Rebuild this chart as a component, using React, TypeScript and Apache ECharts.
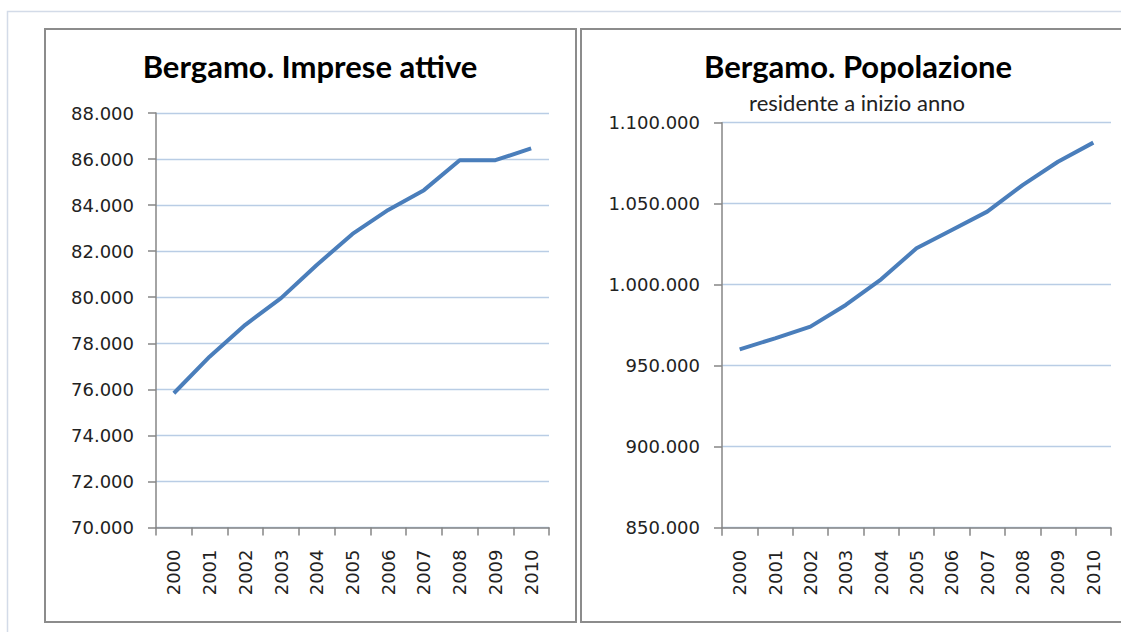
import React, { useEffect, useRef } from "react";
import * as echarts from "echarts";

const years = ["2000", "2001", "2002", "2003", "2004", "2005", "2006", "2007", "2008", "2009", "2010"];
const imprese = [75830, 77420, 78800, 79960, 81400, 82750, 83790, 84650, 85950, 85950, 86460];
const popolazione = [960100, 966900, 974100, 987500, 1003300, 1022500, 1033800, 1045100, 1061500, 1075900, 1087700];

const titleLeft = "Bergamo. Imprese attive";
const titleRight = "Bergamo. Popolazione";
const subtitleRight = "residente a inizio anno";

const fmt = (v: number) => String(Math.round(v)).replace(/\B(?=(\d{3})+(?!\d))/g, ".");

const axisColor = "#868686";
const gridColor = "#b9cde5";
const lineColor = "#4a7ebb";
const labelFont = "DejaVu Sans";

function xAxisFor(gridIndex: number) {
  return {
    type: "category",
    gridIndex,
    data: years,
    boundaryGap: true,
    axisLine: { show: true, lineStyle: { color: axisColor, width: 1.5 } },
    axisTick: { show: true, length: 8, lineStyle: { color: axisColor, width: 1.5 } },
    axisLabel: { rotate: 90, margin: 22, fontSize: 18, fontFamily: labelFont, color: "#222" },
    splitLine: { show: false },
  };
}

function yAxisFor(gridIndex: number, min: number, max: number, interval: number) {
  return {
    type: "value",
    gridIndex,
    min,
    max,
    interval,
    axisLine: { show: true, lineStyle: { color: axisColor, width: 1.5 } },
    axisTick: { show: true, length: 8, lineStyle: { color: axisColor, width: 1.5 } },
    axisLabel: { margin: 22, fontSize: 18, fontFamily: labelFont, color: "#222", formatter: fmt },
    splitLine: { show: true, lineStyle: { color: gridColor, width: 1.3 } },
  };
}

export default function App() {
  const ref = useRef<HTMLDivElement>(null);
  useEffect(() => {
    if (!ref.current) return;
    const chart = echarts.init(ref.current, null, { renderer: "svg" });
    chart.setOption({
      animation: false,
      backgroundColor: "#ffffff",
      grid: [
        { left: 156, top: 113, width: 393, height: 414.5 },
        { left: 722, top: 122.7, width: 389, height: 405 },
      ],
      xAxis: [xAxisFor(0), xAxisFor(1)],
      yAxis: [yAxisFor(0, 70000, 88000, 2000), yAxisFor(1, 850000, 1100000, 50000)],
      series: [
        {
          type: "line",
          xAxisIndex: 0,
          yAxisIndex: 0,
          data: imprese,
          showSymbol: false,
          symbol: "none",
          lineStyle: { color: lineColor, width: 4 },
          itemStyle: { color: lineColor },
        },
        {
          type: "line",
          xAxisIndex: 1,
          yAxisIndex: 1,
          data: popolazione,
          showSymbol: false,
          symbol: "none",
          lineStyle: { color: lineColor, width: 4 },
          itemStyle: { color: lineColor },
        },
      ],
      graphic: [
        {
          type: "rect",
          z: -1,
          shape: { x: 7.5, y: 11.5, width: 1300, height: 800 },
          style: { fill: "transparent", stroke: "#d3dbe8", lineWidth: 1.5 },
        },
        {
          type: "rect",
          z: -1,
          shape: { x: 45, y: 29, width: 531, height: 593 },
          style: { fill: "transparent", stroke: "#8c8c8c", lineWidth: 2 },
        },
        {
          type: "rect",
          z: -1,
          shape: { x: 581, y: 29, width: 560, height: 593 },
          style: { fill: "transparent", stroke: "#8c8c8c", lineWidth: 2 },
        },
        {
          type: "text",
          x: 310,
          y: 66,
          style: {
            text: titleLeft,
            font: "bold 31px Lato",
            fill: "#000",
            align: "center",
            verticalAlign: "middle",
          },
        },
        {
          type: "text",
          x: 858,
          y: 66,
          style: {
            text: titleRight,
            font: "bold 31px Lato",
            fill: "#000",
            align: "center",
            verticalAlign: "middle",
          },
        },
        {
          type: "text",
          x: 857,
          y: 102,
          style: {
            text: subtitleRight,
            font: "22px Lato",
            fill: "#222",
            align: "center",
            verticalAlign: "middle",
          },
        },
      ],
    });
    return () => chart.dispose();
  }, []);
  return (
    <div
      ref={ref}
      style={{ position: "absolute", left: 0, top: 0, width: 1121, height: 632 }}
    />
  );
}
